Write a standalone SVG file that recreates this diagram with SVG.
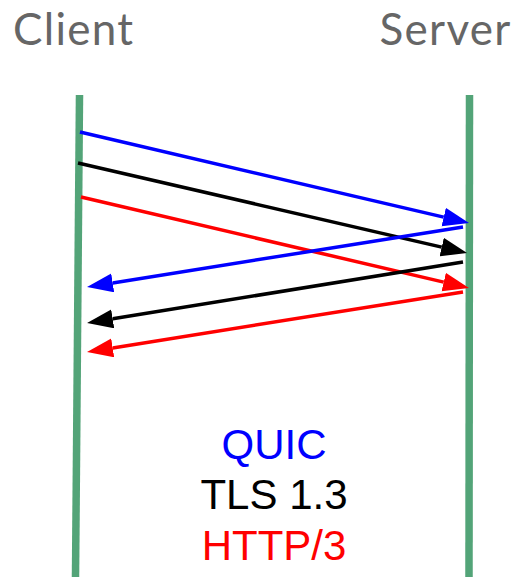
<svg xmlns="http://www.w3.org/2000/svg" width="523" height="577" viewBox="0 0 523 577">
  <style>
    .title { font-family: Lato, "Open Sans", "Liberation Sans", sans-serif; font-size: 44px; letter-spacing: 1.3px; fill: #666666; }
    .label { font-family: "Liberation Sans", Arial, sans-serif; font-size: 42px; text-anchor: middle; }
    .life { stroke: #53a478; stroke-width: 7.5; fill: none; }
    .msg { stroke-width: 3.5; fill: none; stroke-linecap: butt; }
    .blue { stroke: #0000ff; }
    .black { stroke: #000000; }
    .red { stroke: #ff0000; }
  </style>
  <defs>
    <marker id="head-blue" markerUnits="userSpaceOnUse" markerWidth="27" markerHeight="20" refX="0" refY="9.5" orient="auto">
      <path d="M0,0 L26,9.5 L0,19 Z" fill="#0000ff"/>
    </marker>
    <marker id="head-black" markerUnits="userSpaceOnUse" markerWidth="27" markerHeight="20" refX="0" refY="9.5" orient="auto">
      <path d="M0,0 L26,9.5 L0,19 Z" fill="#000000"/>
    </marker>
    <marker id="head-red" markerUnits="userSpaceOnUse" markerWidth="27" markerHeight="20" refX="0" refY="9.5" orient="auto">
      <path d="M0,0 L26,9.5 L0,19 Z" fill="#ff0000"/>
    </marker>
  </defs>

  <rect width="523" height="577" fill="#ffffff"/>

  <!-- client lifeline -->
  <g id="client">
    <text class="title" x="13" y="45">Client</text>
    <line class="life" x1="79.5" y1="95" x2="75.5" y2="577"/>
  </g>

  <!-- server lifeline -->
  <g id="server">
    <text class="title" x="379.5" y="45">Server</text>
    <line class="life" x1="469.5" y1="95" x2="469" y2="577"/>
  </g>

  <!-- handshake messages -->
  <g id="connectors">
    <line class="msg blue" x1="80" y1="132" x2="443.7" y2="217.1" marker-end="url(#head-blue)"/>
    <line class="msg black" x1="78" y1="163" x2="441.7" y2="247.1" marker-end="url(#head-black)"/>
    <line class="msg red" x1="81" y1="197" x2="443.7" y2="282.1" marker-end="url(#head-red)"/>
    <line class="msg blue" x1="463" y1="227" x2="112.7" y2="282.9" marker-end="url(#head-blue)"/>
    <line class="msg black" x1="463" y1="262" x2="112.7" y2="318.8" marker-end="url(#head-black)"/>
    <line class="msg red" x1="463" y1="292" x2="112.7" y2="347.9" marker-end="url(#head-red)"/>
  </g>

  <!-- legend -->
  <g id="legend">
    <text class="label" x="274" y="458.5" fill="#0000ff">QUIC</text>
    <text class="label" x="274" y="509" fill="#000000">TLS 1.3</text>
    <text class="label" x="274" y="559.5" fill="#ff0000">HTTP/3</text>
  </g>
</svg>
